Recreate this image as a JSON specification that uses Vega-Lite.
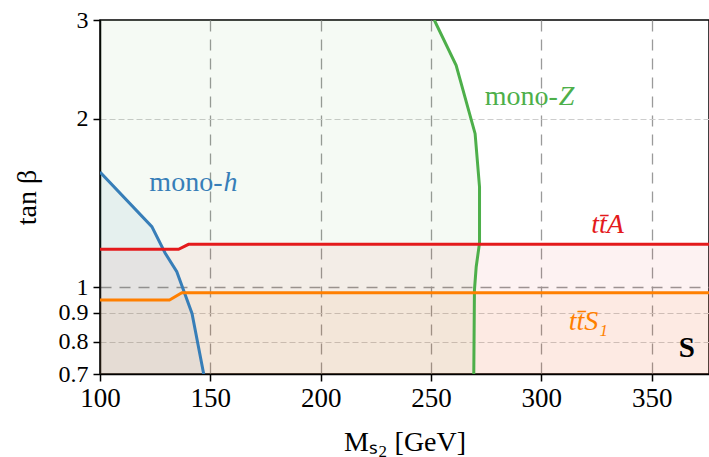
{
  "$schema": "https://vega.github.io/schema/vega-lite/v6.json",
  "width": 609,
  "height": 354,
  "autosize": {"type": "none"},
  "padding": {"left": 100, "top": 20, "right": 0, "bottom": 83},
  "background": "white",
  "config": {
    "font": "Liberation Serif",
    "view": {"stroke": "black", "strokeWidth": 1.5},
    "axis": {
      "domainColor": "black", "domainWidth": 1.5,
      "tickColor": "black", "tickWidth": 1.5, "tickSize": 7,
      "labelColor": "black", "titleColor": "black",
      "labelFont": "Liberation Serif", "titleFont": "Liberation Serif",
      "titleFontWeight": "normal", "labelFontSize": 27, "titleFontSize": 28,
      "labelOverlap": false, "labelFlush": false
    }
  },
  "datasets": {
    "monoZ": [
      {"x": 251.5, "y": 3.0, "s": "Z"},
      {"x": 261.4, "y": 2.49, "s": "Z"},
      {"x": 263.3, "y": 2.34, "s": "Z"},
      {"x": 270.0, "y": 1.88, "s": "Z"},
      {"x": 272.0, "y": 1.51, "s": "Z"},
      {"x": 272.0, "y": 1.2, "s": "Z"},
      {"x": 270.5, "y": 1.088, "s": "Z"},
      {"x": 269.7, "y": 0.988, "s": "Z"},
      {"x": 269.4, "y": 0.7, "s": "Z"}
    ],
    "monoh": [
      {"x": 100, "y": 1.606, "s": "h"},
      {"x": 123.5, "y": 1.283, "s": "h"},
      {"x": 129.5, "y": 1.151, "s": "h"},
      {"x": 134.8, "y": 1.066, "s": "h"},
      {"x": 141.7, "y": 0.898, "s": "h"},
      {"x": 147.0, "y": 0.7, "s": "h"}
    ],
    "ttA": [
      {"x": 100, "y": 1.169, "s": "A"},
      {"x": 135.6, "y": 1.169, "s": "A"},
      {"x": 140.1, "y": 1.193, "s": "A"},
      {"x": 376, "y": 1.193, "s": "A"}
    ],
    "ttS": [
      {"x": 100, "y": 0.949, "s": "S1"},
      {"x": 131.5, "y": 0.949, "s": "S1"},
      {"x": 137.1, "y": 0.978, "s": "S1"},
      {"x": 376, "y": 0.978, "s": "S1"}
    ],
    "roman": [
      {"x": 155.5, "y": 1.535, "t": "mono-", "s": "h"},
      {"x": 307.5, "y": 2.19, "t": "mono-", "s": "Z"}
    ],
    "italic": [
      {"x": 155.5, "y": 1.535, "t": "h", "s": "h"},
      {"x": 307.5, "y": 2.19, "t": "Z", "s": "Z"}
    ],
    "italicC": [
      {"x": 330, "y": 1.29, "t": "tt̄A", "s": "A"},
      {"x": 321.3, "y": 0.867, "t": "tt̄S₁", "s": "S1"}
    ],
    "bold": [
      {"x": 366, "y": 0.78, "t": "S", "s": "S"}
    ]
  },
  "encoding": {
    "x": {
      "field": "x", "type": "quantitative",
      "scale": {"domain": [100, 376], "nice": false, "zero": false},
      "axis": {
        "title": "Mₛ₂ [GeV]",
        "values": [100, 150, 200, 250, 300, 350],
        "grid": true,
        "gridDash": [11, 8],
        "gridColor": "#9a9a9a",
        "gridWidth": 1.3,
        "gridOpacity": {"condition": {"test": "datum.value == 100", "value": 0}, "value": 1},
        "labelPadding": 4,
        "titleY": 68,
        "titleBaseline": "middle"
      }
    },
    "y": {
      "field": "y", "type": "quantitative",
      "scale": {"type": "log", "domain": [0.7, 3], "nice": false},
      "axis": {
        "title": "tan β",
        "values": [0.7, 0.8, 0.9, 1, 2, 3],
        "format": "~g",
        "labelFontSize": 24,
        "grid": true,
        "gridDash": {"condition": {"test": "datum.value == 1", "value": [11, 8]}, "value": [6, 3]},
        "gridColor": {"condition": {"test": "datum.value == 1", "value": "#9a9a9a"}, "value": "#cdcdcd"},
        "gridWidth": {"condition": {"test": "datum.value == 1", "value": 1.3}, "value": 1.2},
        "gridOpacity": {"condition": {"test": "datum.value == 3 || datum.value == 0.7", "value": 0}, "value": 1},
        "labelPadding": 5,
        "titleX": -73,
        "titleBaseline": "middle"
      }
    },
    "color": {
      "field": "s", "type": "nominal", "legend": null,
      "scale": {"domain": ["h", "Z", "A", "S1", "S"], "range": ["#377eb8", "#4daf4a", "#e41a1c", "#ff7f00", "#000000"]}
    }
  },
  "layer": [
    {"data": {"name": "monoZ"}, "mark": {"type": "area", "orient": "horizontal", "fillOpacity": 0.06, "clip": true},
     "encoding": {
       "x": {
         "field": "x", "type": "quantitative", "stack": null,
         "scale": {"domain": [100, 376], "nice": false, "zero": false},
         "axis": {
           "title": "Mₛ₂ [GeV]",
           "values": [100, 150, 200, 250, 300, 350],
           "grid": true,
           "gridDash": [11, 8],
           "gridColor": "#9a9a9a",
           "gridWidth": 1.3,
           "gridOpacity": {"condition": {"test": "datum.value == 100", "value": 0}, "value": 1},
           "labelPadding": 4,
           "titleY": 68,
           "titleBaseline": "middle"
         }
       },
       "x2": {"datum": 100}
     }},
    {"data": {"name": "monoh"}, "mark": {"type": "area", "fillOpacity": 0.08, "clip": true},
     "encoding": {"y2": {"datum": 0.7}}},
    {"data": {"name": "ttA"}, "mark": {"type": "area", "fillOpacity": 0.06, "clip": true},
     "encoding": {"y2": {"datum": 0.7}}},
    {"data": {"name": "ttS"}, "mark": {"type": "area", "fillOpacity": 0.06, "clip": true},
     "encoding": {"y2": {"datum": 0.7}}},
    {"data": {"name": "monoZ"}, "mark": {"type": "line", "strokeWidth": 3, "clip": true},
     "encoding": {"order": {"field": "y", "type": "quantitative"}}},
    {"data": {"name": "monoh"}, "mark": {"type": "line", "strokeWidth": 3, "clip": true}, "encoding": {}},
    {"data": {"name": "ttA"}, "mark": {"type": "line", "strokeWidth": 3, "clip": true}, "encoding": {}},
    {"data": {"name": "ttS"}, "mark": {"type": "line", "strokeWidth": 3, "clip": true}, "encoding": {}},
    {"data": {"name": "roman"}, "mark": {"type": "text", "fontSize": 28, "align": "right", "baseline": "middle"},
     "encoding": {"text": {"field": "t"}}},
    {"data": {"name": "italic"}, "mark": {"type": "text", "fontSize": 28, "fontStyle": "italic", "align": "left", "baseline": "middle", "dx": 1},
     "encoding": {"text": {"field": "t"}}},
    {"data": {"name": "italicC"}, "mark": {"type": "text", "fontSize": 28, "fontStyle": "italic", "align": "center", "baseline": "middle"},
     "encoding": {"text": {"field": "t"}}},
    {"data": {"name": "bold"}, "mark": {"type": "text", "fontSize": 29, "fontWeight": "bold", "align": "center", "baseline": "middle"},
     "encoding": {"text": {"field": "t"}}}
  ]
}
